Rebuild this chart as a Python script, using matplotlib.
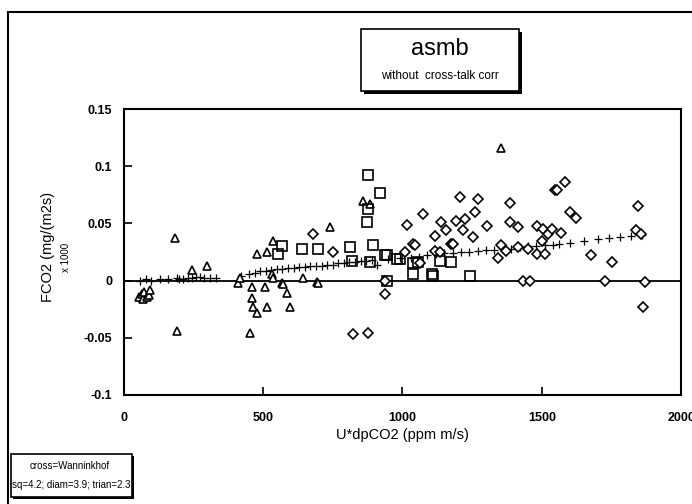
import matplotlib
matplotlib.use("Agg")
import matplotlib.pyplot as plt
from matplotlib.patches import Rectangle

plt.rcParams['font.family'] = ['Liberation Sans', 'DejaVu Sans']

# squares (sq=4.2)
sq_x = [555, 570, 639, 697, 812, 818, 872, 877, 877, 884, 894, 919, 937, 943, 943,
        979, 991, 1038, 1038, 1056, 1105, 1110, 1134, 1176, 1242]
sq_y = [0.023, 0.030, 0.028, 0.028, 0.029, 0.017, 0.051, 0.063, 0.092, 0.016, 0.031,
        0.077, 0.022, 0.000, 0.022, 0.019, 0.019, 0.015, 0.006, 0.016, 0.006, 0.004,
        0.017, 0.016, 0.004]

# diamonds (diam=3.9)
dm_x = [680, 751, 824, 877, 937, 937, 1009, 1015, 1038, 1045, 1063, 1075, 1116, 1116,
        1134, 1140, 1158, 1176, 1182, 1194, 1206, 1218, 1224, 1254, 1260, 1272, 1302,
        1343, 1355, 1373, 1385, 1385, 1415, 1415, 1433, 1451, 1457, 1481, 1481, 1499,
        1505, 1511, 1523, 1535, 1547, 1553, 1570, 1582, 1600, 1624, 1678, 1726, 1750,
        1839, 1845, 1857, 1863, 1869]
dm_y = [0.041, 0.025, -0.047, -0.046, 0.000, -0.012, 0.025, 0.049, 0.032, 0.031, 0.015,
        0.058, 0.039, 0.026, 0.025, 0.051, 0.044, 0.032, 0.032, 0.052, 0.073, 0.044,
        0.054, 0.038, 0.060, 0.071, 0.048, 0.020, 0.031, 0.026, 0.068, 0.051, 0.047,
        0.029, 0.000, 0.028, 0.000, 0.048, 0.023, 0.035, 0.045, 0.023, 0.041, 0.045,
        0.079, 0.079, 0.042, 0.086, 0.060, 0.055, 0.022, 0.000, 0.016, 0.044, 0.065,
        0.041, -0.023, -0.001]

# triangles (trian=2.3)
tr_x = [55, 65, 70, 75, 85, 90, 95, 185, 191, 245, 299, 410, 418, 453, 459, 459, 465,
        477, 477, 507, 513, 513, 531, 536, 536, 567, 572, 585, 597, 644, 692, 697, 741,
        859, 884, 1355]
tr_y = [-0.014, -0.012, -0.016, -0.010, -0.014, -0.013, -0.008, 0.037, -0.044, 0.009,
        0.013, -0.002, 0.002, -0.046, -0.006, -0.015, -0.023, 0.023, -0.028, -0.006,
        0.025, -0.023, 0.006, 0.035, 0.002, -0.002, -0.003, -0.011, -0.023, 0.002,
        -0.001, -0.002, 0.047, 0.070, 0.067, 0.116]

# crosses = Wanninkhof
cr_x = [60, 80, 100, 130, 160, 190, 200, 215, 230, 245, 260, 275, 290, 310, 330, 420,
        450, 470, 490, 510, 530, 550, 570, 590, 610, 630, 650, 670, 690, 710, 730, 750,
        770, 790, 810, 830, 850, 870, 890, 910, 950, 990, 1030, 1060, 1090, 1120, 1150,
        1180, 1210, 1240, 1270, 1300, 1330, 1360, 1390, 1420, 1450, 1480, 1510, 1540,
        1560, 1600, 1650, 1700, 1740, 1780, 1820, 1860]
cr_y = [0.000, 0.001, 0.000, 0.001, 0.001, 0.002, 0.001, 0.001, 0.002, 0.002, 0.003,
        0.003, 0.002, 0.002, 0.002, 0.004, 0.006, 0.007, 0.008, 0.008, 0.009, 0.010,
        0.010, 0.011, 0.011, 0.012, 0.012, 0.013, 0.013, 0.013, 0.014, 0.014, 0.015,
        0.015, 0.016, 0.016, 0.017, 0.017, 0.018, 0.014, 0.019, 0.020, 0.020, 0.021,
        0.022, 0.023, 0.024, 0.024, 0.025, 0.025, 0.026, 0.027, 0.027, 0.028, 0.028,
        0.029, 0.030, 0.030, 0.031, 0.031, 0.032, 0.033, 0.035, 0.036, 0.037, 0.038,
        0.039, 0.040]

x_ticks = [0, 500, 1000, 1500, 2000]
y_ticks = [-0.1, -0.05, 0, 0.05, 0.1, 0.15]
y_labels = ["-0.1", "-0.05", "0", "0.05", "0.1", "0.15"]

fig = plt.figure(figsize=(6.92, 5.04), dpi=100)
ax = fig.add_axes([0.1785, 0.2163, 0.806, 0.5674])

ax.axhline(0, color='black', lw=1.3, zorder=1)
ax.plot(cr_x, cr_y, '+', color='black', ms=6, mew=0.9, ls='none', zorder=2)
ax.plot(tr_x, tr_y, '^', mfc='white', mec='black', ms=6, mew=1.2, ls='none', zorder=3)
ax.plot(sq_x, sq_y, 's', mfc='none', mec='black', ms=7.5, mew=1.2, ls='none', zorder=3)
ax.plot(dm_x, dm_y, 'D', mfc='white', mec='black', ms=5.5, mew=1.2, ls='none', zorder=3)

ax.set_xlim(0, 2000)
ax.set_ylim(-0.1, 0.15)
ax.set_xticks(x_ticks)
ax.set_xticklabels([str(t) for t in x_ticks], fontweight='bold', fontsize=9)
ax.set_yticks(y_ticks)
ax.set_yticklabels(y_labels, fontweight='bold', fontsize=9)
ax.tick_params(direction='in', length=6, width=1.2, pad=8)
ax.tick_params(axis='x', pad=12)
for s in ax.spines.values():
    s.set_linewidth(1.5)

ax.set_xlabel("U*dpCO2 (ppm m/s)", fontsize=10.5, labelpad=3)
fig.text(0.070, 0.51, "FCO2 (mg/(m2s)", rotation=90, fontsize=10.5, ha='center', va='center')
fig.text(0.095, 0.49, "x 1000", rotation=90, fontsize=7, ha='center', va='center')

# outer frame
fig.patches.append(Rectangle((8 / 692, -0.02), 1.0, 1 - 12 / 504 + 0.02,
                             transform=fig.transFigure, fill=False, lw=1.5, ec='black'))

# title box with shadow
fig.patches.append(Rectangle((364 / 692, 1 - 94 / 504), 158 / 692, 62 / 504,
                             transform=fig.transFigure, fill=True, fc='black', lw=0))
fig.patches.append(Rectangle((361 / 692, 1 - 91 / 504), 158 / 692, 62 / 504,
                             transform=fig.transFigure, fill=True, fc='white',
                             lw=1.2, ec='black'))
fig.text(440 / 692, 1 - 49 / 504, "asmb", fontsize=17, ha='center', va='center')
fig.text(440 / 692, 1 - 76 / 504, "without  cross-talk corr", fontsize=8.5,
         ha='center', va='center')

# note box with shadow
fig.patches.append(Rectangle((13 / 692, 1 - 499 / 504), 121 / 692, 43 / 504,
                             transform=fig.transFigure, fill=True, fc='black', lw=0))
fig.patches.append(Rectangle((11 / 692, 1 - 497 / 504), 121 / 692, 43 / 504,
                             transform=fig.transFigure, fill=True, fc='white',
                             lw=1.2, ec='black'))
fig.text(70 / 692, 1 - 466 / 504, "cross=Wanninkhof", fontsize=7, ha='center', va='center')
fig.text(71 / 692, 1 - 485 / 504, "sq=4.2; diam=3.9; trian=2.3", fontsize=7,
         ha='center', va='center')

fig.savefig("out.png", dpi=100)
